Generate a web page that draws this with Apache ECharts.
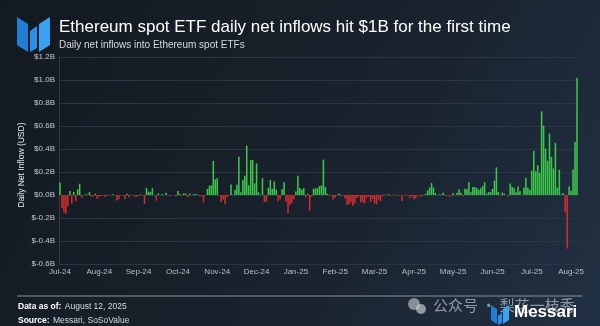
<!DOCTYPE html>
<html>
<head>
<meta charset="utf-8">
<script src="https://cdn.jsdelivr.net/npm/echarts@6/dist/echarts.min.js"></script>
<style>
  html, body { margin: 0; padding: 0; background: #18202a; }
  #chart { width: 600px; height: 326px; }
</style>
</head>
<body>
<div id="chart"></div>
<script>
// Daily net flows into US spot Ethereum ETFs, in billions of USD, one value per trading day.
const flowsJul24 = [0.107, -0.113, -0.152, -0.163, -0.098, 0.034, -0.077];
const flowsAug24 = [0.027, -0.054, 0.049, 0.098, -0.024, -0.002, 0.006, 0.005, 0.024, -0.016, -0.012, 0.011, -0.035, -0.014, -0.006, -0.005, -0.018, -0.004, 0.002, -0.001, 0.006, -0.002];
const flowsSep24 = [-0.047, -0.037, -0.001, -0.006, -0.034, 0.011, -0.020, 0.002, -0.001, -0.013, -0.015, -0.010, 0.005, -0.005, -0.079, 0.062, 0.030, 0.026, 0.059, 0.002];
const flowsOct24 = [-0.049, 0.015, 0.000, 0.008, 0.000, 0.020, -0.002, -0.004, -0.001, 0.000, -0.013, 0.035, 0.009, -0.007, 0.015, 0.011, -0.019, 0.012, -0.002, 0.010, 0.008, 0.004, -0.011];
const flowsNov24 = [-0.011, -0.064, 0.000, 0.052, 0.080, 0.086, 0.295, 0.136, 0.147, -0.003, -0.060, -0.039, -0.081, -0.019, -0.004, 0.091, 0.003, 0.043, 0.090, 0.333];
const flowsDec24 = [0.024, 0.133, 0.168, 0.429, 0.084, 0.306, 0.305, 0.102, 0.274, 0.024, 0.003, 0.146, -0.061, -0.060, 0.063, 0.131, 0.054, 0.117, 0.048, -0.055, -0.036];
const flowsJan25 = [0.050, 0.110, -0.060, -0.159, -0.087, -0.069, -0.039, 0.030, 0.167, 0.060, 0.045, 0.060, -0.020, 0.010, -0.136, -0.015, 0.055, 0.057, 0.060, 0.078];
const flowsFeb25 = [0.084, 0.308, 0.070, 0.012, -0.005, 0.002, -0.040, -0.022, 0.002, 0.012, -0.008, -0.003, -0.030, -0.087, -0.078, -0.060, -0.094, -0.071, -0.025];
const flowsMar25 = [-0.012, -0.065, -0.063, -0.073, -0.023, -0.015, -0.060, -0.035, -0.073, -0.082, -0.040, -0.052, -0.012, 0.004, -0.003, 0.006, -0.008, 0.000, 0.004, -0.005, -0.007];
const flowsApr25 = [-0.003, -0.052, 0.000, -0.005, -0.003, -0.025, -0.011, -0.038, -0.030, -0.005, -0.012, -0.012, 0.002, 0.010, 0.039, 0.064, 0.104, 0.064, 0.018, -0.002, 0.006];
const flowsMay25 = [0.006, 0.020, -0.008, -0.005, -0.012, -0.010, 0.018, -0.004, 0.020, 0.050, 0.020, -0.010, 0.055, 0.049, 0.110, 0.025, 0.070, 0.070, 0.060, 0.045, 0.060];
const flowsJun25 = [0.078, 0.110, 0.011, 0.025, 0.025, 0.053, 0.125, 0.240, 0.027, -0.002, 0.021, 0.011, -0.002, -0.011, 0.101, 0.071, 0.060, 0.025, 0.074, 0.032];
const flowsJul25 = [-0.002, 0.065, 0.149, 0.062, 0.046, 0.211, 0.383, 0.205, 0.259, 0.192, 0.727, 0.602, 0.402, 0.297, 0.534, 0.332, 0.231, 0.453, 0.065, 0.219, 0.006, 0.017];
const flowsAug25 = [-0.152, -0.465, 0.073, 0.035, 0.222, 0.461, 1.019];

// Month labels shown on the x axis, paired with each month's daily flows
const monthLabels = ['Jul-24', 'Aug-24', 'Sep-24', 'Oct-24', 'Nov-24', 'Dec-24', 'Jan-25', 'Feb-25', 'Mar-25', 'Apr-25', 'May-25', 'Jun-25', 'Jul-25', 'Aug-25'];
const monthFlows = [flowsJul24, flowsAug24, flowsSep24, flowsOct24, flowsNov24, flowsDec24, flowsJan25, flowsFeb25, flowsMar25, flowsApr25, flowsMay25, flowsJun25, flowsJul25, flowsAug25];

// y axis ticks in $B
const yMin = -0.6, yMax = 1.2, yStep = 0.2;

const categories = [];
const values = [];
monthFlows.forEach((arr, m) => {
  arr.forEach((v, d) => {
    categories.push(monthLabels[m] + '|' + d);
    values.push(v);
  });
});

const GREEN = '#3cc94a';
const RED = '#d42b2e';
const FONT = '"Liberation Sans", Arial, sans-serif';

const chart = echarts.init(document.getElementById('chart'), null, { renderer: 'canvas' });

const option = {
  animation: false,
  backgroundColor: {
    type: 'linear', x: 0, y: 0, x2: 1, y2: 1,
    colorStops: [
      { offset: 0, color: '#131920' },
      { offset: 0.55, color: '#19222d' },
      { offset: 1, color: '#213043' }
    ]
  },
  grid: { left: 59, right: 22, top: 57, bottom: 62, containLabel: false },
  xAxis: {
    type: 'category',
    data: categories,
    boundaryGap: true,
    axisLine: { show: false },
    axisTick: { show: false },
    axisLabel: {
      interval: 19,
      color: '#b9bfc7',
      fontSize: 8,
      fontFamily: FONT,
      margin: 4,
      formatter: (v) => v.split('|')[0]
    },
    splitLine: { show: false }
  },
  yAxis: {
    type: 'value',
    min: yMin, max: yMax, interval: yStep,
    axisLine: { show: true, lineStyle: { color: '#2f3946', width: 1 } },
    axisTick: { show: false },
    axisLabel: {
      color: '#c3c8cf',
      fontSize: 8,
      fontFamily: FONT,
      margin: 4,
      formatter: (v) => '$' + (Math.abs(v) < 1e-9 ? '0.0' : v.toFixed(1)) + 'B'
    },
    splitLine: { show: true, lineStyle: { color: '#2c3642', width: 1 } }
  },
  series: [{
    type: 'bar',
    data: values.map(v => ({ value: v, itemStyle: { color: v >= 0 ? GREEN : RED } })),
    barCategoryGap: '22%',
    silent: true
  }],
  graphic: [
    // Messari mark, top left
    { type: 'polygon', shape: { points: [[17, 17], [28, 24], [28, 52], [17, 45]] }, style: { fill: '#1f7fd6' } },
    { type: 'polygon', shape: { points: [[30, 31], [37, 26], [37, 48], [30, 52]] }, style: { fill: '#2a8fe6' } },
    { type: 'polygon', shape: { points: [[39, 24], [50, 17], [50, 45], [39, 52]] }, style: { fill: '#3aa2f2' } },
    // Title and subtitle
    { type: 'text', left: 59, top: 19, style: { text: 'Ethereum spot ETF daily net inflows hit $1B for the first time', fill: '#ffffff', font: '17px ' + FONT } },
    { type: 'text', left: 59, top: 40, style: { text: 'Daily net inflows into Ethereum spot ETFs', fill: '#d5d9de', font: '10px ' + FONT } },
    // y axis title
    { type: 'text', x: 22, y: 165, rotation: Math.PI / 2, style: { text: 'Daily Net Inflow (USD)', fill: '#e6e9ec', font: '8.5px ' + FONT, align: 'center', verticalAlign: 'middle' } },
    // Footer rule and notes
    { type: 'line', shape: { x1: 17, y1: 296, x2: 582, y2: 296 }, style: { stroke: '#8a9199', lineWidth: 1 } },
    { type: 'text', left: 18, top: 301, style: { rich: { b: { font: 'bold 8.5px ' + FONT, fill: '#ffffff' }, n: { font: '8.5px ' + FONT, fill: '#d5d9de' } }, text: '{b|Data as of:} {n|August 12, 2025}' } },
    { type: 'text', left: 18, top: 315, style: { rich: { b: { font: 'bold 8.5px ' + FONT, fill: '#ffffff' }, n: { font: '8.5px ' + FONT, fill: '#d5d9de' } }, text: '{b|Source:} {n|Messari, SoSoValue}' } },
    // Watermark
    { type: 'circle', shape: { cx: 414, cy: 304, r: 6 }, style: { fill: 'rgba(225,228,232,0.55)' } },
    { type: 'circle', shape: { cx: 421, cy: 309, r: 5 }, style: { fill: 'rgba(225,228,232,0.6)' } },
    { type: 'text', left: 433, top: 298, style: { text: '公众号 · 梨花一枝秀', fill: 'rgba(235,238,242,0.55)', font: '15px "Noto Sans CJK SC", sans-serif' } },
    // Messari mark and wordmark, bottom right
    { type: 'polygon', shape: { points: [[491, 305], [497, 309], [497, 324], [491, 320]] }, style: { fill: '#1f7fd6' } },
    { type: 'polygon', shape: { points: [[498, 316], [502, 313], [502, 323], [498, 325]] }, style: { fill: '#2a8fe6' } },
    { type: 'polygon', shape: { points: [[503, 309], [509, 305], [509, 320], [503, 324]] }, style: { fill: '#3aa2f2' } },
    { type: 'text', left: 514, top: 304, style: { text: 'Messari', fill: '#ffffff', font: 'bold 17px ' + FONT } }
  ]
};

chart.setOption(option);
</script>
</body>
</html>
